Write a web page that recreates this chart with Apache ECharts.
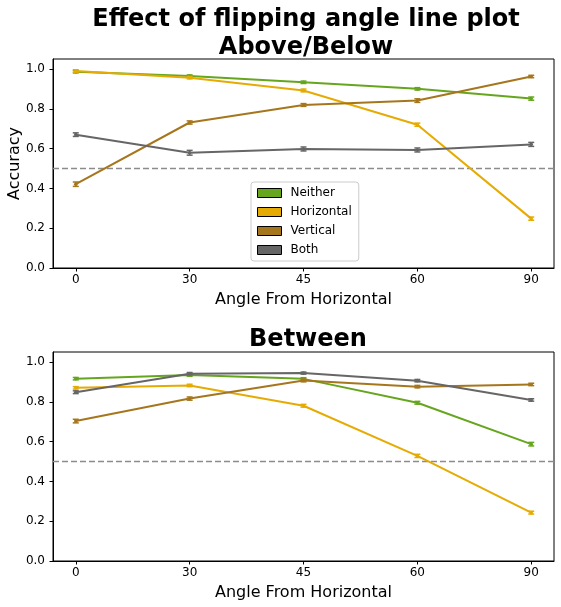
<!DOCTYPE html>
<html><head><meta charset="utf-8">
<script src="https://cdn.jsdelivr.net/npm/echarts@6/dist/echarts.min.js"></script>
<style>html,body{margin:0;padding:0;background:#fff}#c{width:561px;height:607px}</style>
</head><body><div id="c"></div>
<script>
const angles = ['0', '30', '45', '60', '90'];
const seriesNames = ['Neither', 'Horizontal', 'Vertical', 'Both'];
const colors = ['#66a61e', '#e6ab02', '#a6761d', '#666666'];
// Above/Below
const aboveNeither = [0.986, 0.964, 0.933, 0.900, 0.851];
const aboveHorizontal = [0.990, 0.956, 0.892, 0.720, 0.248];
const aboveVertical = [0.421, 0.731, 0.819, 0.841, 0.962];
const aboveBoth = [0.670, 0.579, 0.598, 0.593, 0.621];
const aboveNeitherErr = [0.006, 0.006, 0.006, 0.006, 0.008];
const aboveHorizontalErr = [0.006, 0.006, 0.007, 0.008, 0.008];
const aboveVerticalErr = [0.011, 0.008, 0.007, 0.009, 0.006];
const aboveBothErr = [0.009, 0.012, 0.010, 0.010, 0.010];
// Between
const betweenNeither = [0.916, 0.934, 0.915, 0.795, 0.587];
const betweenHorizontal = [0.870, 0.882, 0.780, 0.528, 0.243];
const betweenVertical = [0.703, 0.816, 0.907, 0.876, 0.887];
const betweenBoth = [0.848, 0.941, 0.944, 0.906, 0.809];
const betweenNeitherErr = [0.006, 0.006, 0.006, 0.007, 0.009];
const betweenHorizontalErr = [0.006, 0.006, 0.007, 0.008, 0.007];
const betweenVerticalErr = [0.009, 0.008, 0.007, 0.006, 0.006];
const betweenBothErr = [0.007, 0.006, 0.005, 0.006, 0.006];
const yTicks = [0, 0.2, 0.4, 0.6, 0.8, 1.0];
const chance = 0.5;

const FONT = 'DejaVu Sans';
const xIdx = angles.map((_, i) => i);

function xAxisCfg(gi) {
  return {
    type: 'value', gridIndex: gi, min: -0.2, max: 4.2, position: 'bottom',
    name: 'Angle From Horizontal', nameLocation: 'middle', nameGap: 24, nameMoveOverlap: false,
    nameTextStyle: { fontSize: 16, color: '#000', fontFamily: FONT },
    axisLine: { show: true, onZero: false, lineStyle: { color: '#000', width: 1 } },
    axisTick: { show: true, customValues: xIdx, length: 3.5, lineStyle: { color: '#000', width: 1 } },
    axisLabel: { customValues: xIdx, formatter: v => angles[Math.round(v)], fontSize: 12, color: '#000', fontFamily: FONT, margin: 6 },
    splitLine: { show: false }
  };
}
function yAxisCfg(gi, withName) {
  return {
    type: 'value', gridIndex: gi, min: 0, max: 1.05, position: 'left',
    name: withName ? 'Accuracy' : '', nameLocation: 'middle', nameGap: 30, nameMoveOverlap: false,
    nameTextStyle: { fontSize: 16, color: '#000', fontFamily: FONT },
    axisLine: { show: true, onZero: false, lineStyle: { color: '#000', width: 1 } },
    axisTick: { show: true, customValues: yTicks, length: 3.5, lineStyle: { color: '#000', width: 1 } },
    axisLabel: { customValues: yTicks, formatter: v => v.toFixed(1), fontSize: 12, color: '#000', fontFamily: FONT, margin: 8 },
    splitLine: { show: false }
  };
}

const groups = [
  [aboveNeither, aboveHorizontal, aboveVertical, aboveBoth],
  [betweenNeither, betweenHorizontal, betweenVertical, betweenBoth]
];
const errGroups = [
  [aboveNeitherErr, aboveHorizontalErr, aboveVerticalErr, aboveBothErr],
  [betweenNeitherErr, betweenHorizontalErr, betweenVerticalErr, betweenBothErr]
];

const series = [];
groups.forEach((grp, gi) => {
  grp.forEach((vals, si) => {
    series.push({
      name: seriesNames[si], type: 'line', xAxisIndex: gi, yAxisIndex: gi,
      data: vals.map((v, i) => [i, v]),
      symbol: 'none',
      lineStyle: { width: 2, color: colors[si] },
      itemStyle: { color: colors[si] },
      emphasis: { disabled: true }, z: 3 + si,
      animation: false
    });
    series.push({
      name: seriesNames[si] + ' err', type: 'custom', xAxisIndex: gi, yAxisIndex: gi,
      data: vals.map((v, i) => [i, v, errGroups[gi][si][i]]),
      renderItem: (params, api) => {
        const x = api.value(0), y = api.value(1), e = api.value(2);
        const top = api.coord([x, y + e]);
        const bot = api.coord([x, y - e]);
        const mid = api.coord([x, y]);
        const st = { stroke: colors[si], lineWidth: 1.5 };
        return { type: 'group', children: [
          { type: 'line', shape: { x1: top[0], y1: top[1], x2: bot[0], y2: bot[1] }, style: st },
          { type: 'line', shape: { x1: top[0] - 3, y1: top[1], x2: top[0] + 3, y2: top[1] }, style: st },
          { type: 'line', shape: { x1: bot[0] - 3, y1: bot[1], x2: bot[0] + 3, y2: bot[1] }, style: st },
          { type: 'circle', shape: { cx: mid[0], cy: mid[1], r: 1.8 }, style: { fill: colors[si] } }
        ]};
      },
      z: 3 + si, silent: true, animation: false
    });
  });
  series.push({
    name: 'chance' + gi, type: 'line', xAxisIndex: gi, yAxisIndex: gi,
    data: [[-0.2, chance], [4.2, chance]], symbol: 'none',
    lineStyle: { type: [6, 3], color: '#8c8c8c', width: 1.5 }, z: 2, silent: true, animation: false
  });
});

const chart = echarts.init(document.getElementById('c'), null, { renderer: 'canvas' });
chart.setOption({
  animation: false,
  backgroundColor: '#fff',
  textStyle: { fontFamily: FONT },
  title: [
    { text: 'Effect of flipping angle line plot\nAbove/Below', left: 301, top: 1, textAlign: 'center',
      textStyle: { fontSize: 24, fontWeight: 'bold', color: '#000', fontFamily: FONT, lineHeight: 28 } },
    { text: 'Between', left: 303, top: 323, textAlign: 'center',
      textStyle: { fontSize: 24, fontWeight: 'bold', color: '#000', fontFamily: FONT } }
  ],
  grid: [
    { left: 53, width: 501, top: 59, height: 209, containLabel: false, outerBoundsMode: 'none', show: true, borderColor: '#000', borderWidth: 1, backgroundColor: 'transparent' },
    { left: 53, width: 501, top: 352, height: 209, containLabel: false, outerBoundsMode: 'none', show: true, borderColor: '#000', borderWidth: 1, backgroundColor: 'transparent' }
  ],
  xAxis: [xAxisCfg(0), xAxisCfg(1)],
  yAxis: [yAxisCfg(0, true), yAxisCfg(1, false)],
  legend: {
    data: seriesNames, orient: 'vertical', left: 251, top: 182,
    icon: 'rect', itemWidth: 24, itemHeight: 9, itemGap: 7,
    itemStyle: { borderColor: '#000', borderWidth: 1 },
    textStyle: { fontSize: 12, color: '#000', fontFamily: FONT, padding: [0, 0, 0, 4] },
    padding: [5, 7, 5, 6], borderColor: '#cccccc', borderWidth: 1, borderRadius: 3,
    backgroundColor: 'rgba(255,255,255,0.85)', selectedMode: false
  },
  series: series
});
</script></body></html>
